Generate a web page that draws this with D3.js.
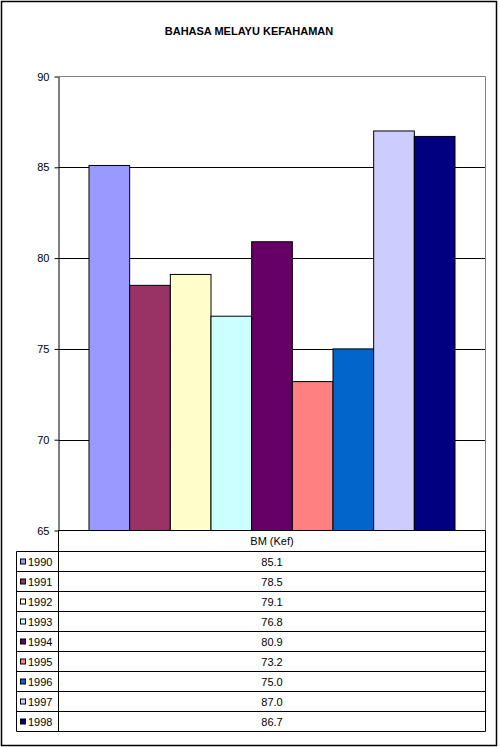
<!DOCTYPE html>
<html>
<head>
<meta charset="utf-8">
<script src="https://cdn.jsdelivr.net/npm/d3@7"></script>
<style>
  body { margin: 0; background: #fff; }
  svg { font-family: Arial, "Liberation Sans", sans-serif; }
</style>
</head>
<body>
<svg id="chart" width="500" height="747"></svg>
<script>
// chart data
var years = ["1990", "1991", "1992", "1993", "1994", "1995", "1996", "1997", "1998"];
var scores = [85.1, 78.5, 79.1, 76.8, 80.9, 73.2, 75.0, 87.0, 86.7];
var barColors = ["#9999FF", "#993366", "#FFFFCC", "#CCFFFF", "#660066", "#FF8080", "#0066CC", "#CCCCFF", "#000080"];
var yTicks = [65, 70, 75, 80, 85, 90];
var category = "BM (Kef)";
var title = "BAHASA MELAYU KEFAHAMAN";

var svg = d3.select("#chart");

// outer frame
svg.append("rect")
    .attr("x", 1.5).attr("y", 1.5)
    .attr("width", 495).attr("height", 744)
    .attr("fill", "#fff")
    .attr("stroke", "#000")
    .attr("stroke-width", 1.5);

svg.append("text")
    .attr("x", 249)
    .attr("y", 35)
    .attr("text-anchor", "middle")
    .style("font-size", "11px")
    .style("font-weight", "bold")
    .text(title);

var plotLeft = 58.5, plotRight = 485.5, plotTop = 76.5, plotBottom = 530.5;

var y = d3.scaleLinear().domain([65, 90]).range([plotBottom, plotTop]);

// one category, bars placed inside it with 150% gap
var outer = d3.scaleBand().domain([category]).range([plotLeft, plotRight]);
var barW = outer.bandwidth() / (years.length + 1.5);
var x = d3.scaleBand()
    .domain(years)
    .range([plotLeft + barW * 0.75, plotRight - barW * 0.75])
    .padding(0);

// gridlines
svg.append("g")
    .selectAll("line")
    .data(yTicks.filter(function (d) { return d > 65 && d < 90; }))
    .join("line")
    .attr("x1", plotLeft).attr("x2", plotRight)
    .attr("y1", function (d) { return Math.round(y(d)) + 0.5; })
    .attr("y2", function (d) { return Math.round(y(d)) + 0.5; })
    .attr("stroke", "#000");

// plot area border (top + right gray)
svg.append("path")
    .attr("d", "M" + plotLeft + "," + plotTop + "H" + plotRight + "V" + plotBottom)
    .attr("fill", "none")
    .attr("stroke", "#808080");

// bars
svg.append("g")
    .selectAll("rect")
    .data(scores)
    .join("rect")
    .attr("x", function (d, i) { return x(years[i]); })
    .attr("y", function (d) { return y(d); })
    .attr("width", x.bandwidth())
    .attr("height", function (d) { return y(65) - y(d); })
    .attr("fill", function (d, i) { return barColors[i]; })
    .attr("stroke", "#000")
    .attr("stroke-width", 1);

// y axis
var yAxis = svg.append("g")
    .attr("transform", "translate(" + plotLeft + ",0)")
    .call(d3.axisLeft(y).tickValues(yTicks).tickSize(4).tickSizeOuter(0).tickPadding(5));
yAxis.select(".domain").attr("stroke", "#000");
yAxis.selectAll("text")
    .style("font-size", "11px")
    .style("font-family", "Arial, 'Liberation Sans', sans-serif")
    .attr("fill", "#000");

// data table
var rowTop = 551.5, rowH = 20, tableLeft = 16.5;
var rows = d3.range(years.length);
var rowY = d3.scaleBand().domain(rows).range([rowTop, rowTop + rowH * years.length]);

var tbl = svg.append("g");
tbl.append("line")
    .attr("x1", plotLeft).attr("x2", plotRight).attr("y1", plotBottom).attr("y2", plotBottom)
    .attr("stroke", "#000");
tbl.append("line")
    .attr("x1", plotRight).attr("x2", plotRight).attr("y1", plotBottom).attr("y2", rowY.range()[1])
    .attr("stroke", "#000");
tbl.append("line")
    .attr("x1", plotLeft).attr("x2", plotLeft).attr("y1", plotBottom).attr("y2", rowY.range()[1])
    .attr("stroke", "#000");
tbl.append("line")
    .attr("x1", tableLeft).attr("x2", tableLeft).attr("y1", rowTop).attr("y2", rowY.range()[1])
    .attr("stroke", "#000");
tbl.selectAll("line.h")
    .data(rows.concat([years.length]))
    .join("line")
    .attr("class", "h")
    .attr("x1", tableLeft).attr("x2", plotRight)
    .attr("y1", function (d) { return rowTop + d * rowH; })
    .attr("y2", function (d) { return rowTop + d * rowH; })
    .attr("stroke", "#000");

tbl.append("text")
    .attr("x", (plotLeft + plotRight) / 2)
    .attr("y", plotBottom + 14.5)
    .attr("text-anchor", "middle")
    .style("font-size", "11px")
    .text(category);

var cells = tbl.selectAll("g.row")
    .data(rows)
    .join("g")
    .attr("class", "row")
    .attr("transform", function (d) { return "translate(0," + rowY(d) + ")"; });

cells.append("rect")
    .attr("x", 20.5).attr("y", 7.5)
    .attr("width", 5).attr("height", 5)
    .attr("fill", function (d) { return barColors[d]; })
    .attr("stroke", "#000");

cells.append("text")
    .attr("x", 28)
    .attr("y", 14.5)
    .style("font-size", "11px")
    .text(function (d) { return years[d]; });

cells.append("text")
    .attr("x", (plotLeft + plotRight) / 2)
    .attr("y", 14.5)
    .attr("text-anchor", "middle")
    .style("font-size", "11px")
    .text(function (d) { return d3.format(".1f")(scores[d]); });
</script>
</body>
</html>
